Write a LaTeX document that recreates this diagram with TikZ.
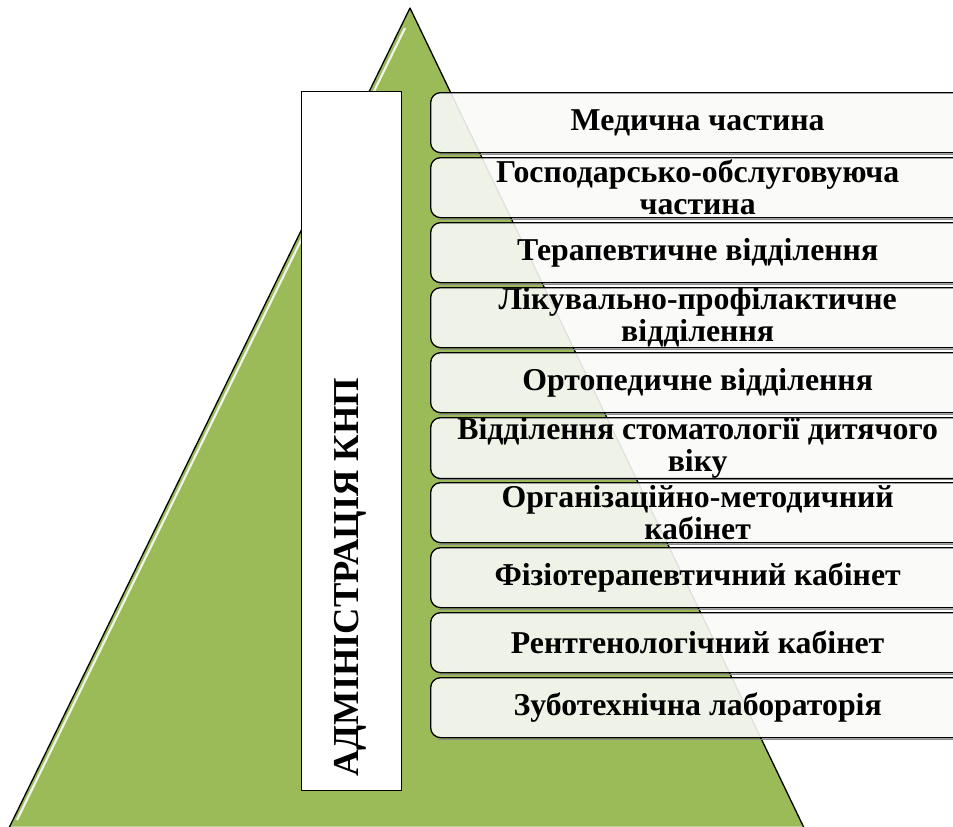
\documentclass[tikz,border=0pt]{standalone}
\usepackage{fontspec}
\setmainfont{Liberation Serif}
\definecolor{olivegreen}{HTML}{9BBB59}
\definecolor{boxtint}{HTML}{F9FAF7}
\begin{document}
\begin{tikzpicture}[x=1pt,y=-1pt,
  unitbox/.style={draw=black, line width=1.3pt, rounded corners=10pt, fill=boxtint,
    fill opacity=0.9, text opacity=1, minimum width=534pt, minimum height=60pt,
    anchor=north west, inner sep=0pt, align=center,
    font=\bfseries\fontsize{31.8}{32}\selectfont},
  shadowline/.style={draw=black!45, line width=1.2pt},
  adminbox/.style={draw=black, line width=1.3pt, fill=white},
]
\useasboundingbox (0,0) rectangle (953,827);
\begin{scope}
\clip (0,0) rectangle (953,827);
% triangle
\fill[olivegreen] (410,8) -- (806,832) -- (7,832) -- cycle;
\fill[white, opacity=0.35] (7,832) -- (806,832) -- (803,826) -- (12,826) -- cycle;
\draw[white, line width=2.2pt, opacity=0.85] (405,28) -- (17,820);
\draw[black, line width=1.3pt, line join=round] (7,832) -- (410,8) -- (806,832);
% admin box
\node[adminbox, minimum width=100pt, minimum height=699pt, anchor=north west, inner sep=0pt] (adm) at (301,91) {};
\node[rotate=90, anchor=base west, inner sep=0pt, font=\bfseries\fontsize{36.5}{37}\selectfont] (admtxt) at (358,777) {АДМІНІСТРАЦІЯ КНП};
% units
\foreach \i/\t in {0/{Медична частина},
  1/{Господарсько-обслуговуюча\\частина},
  2/{Терапевтичне відділення},
  3/{Лікувально-профілактичне\\відділення},
  4/{Ортопедичне відділення},
  5/{Відділення стоматології дитячого\\віку},
  6/{Організаційно-методичний\\кабінет},
  7/{Фізіотерапевтичний кабінет},
  8/{Рентгенологічний кабінет},
  9/{Зуботехнічна лабораторія}} {
  \draw[shadowline] (438,92+65*\i+62.5) -- (964,92+65*\i+62.5);
  \node[unitbox] (u\i) at (430,92+65*\i) {\t};
}
\end{scope}
\end{tikzpicture}
\end{document}
